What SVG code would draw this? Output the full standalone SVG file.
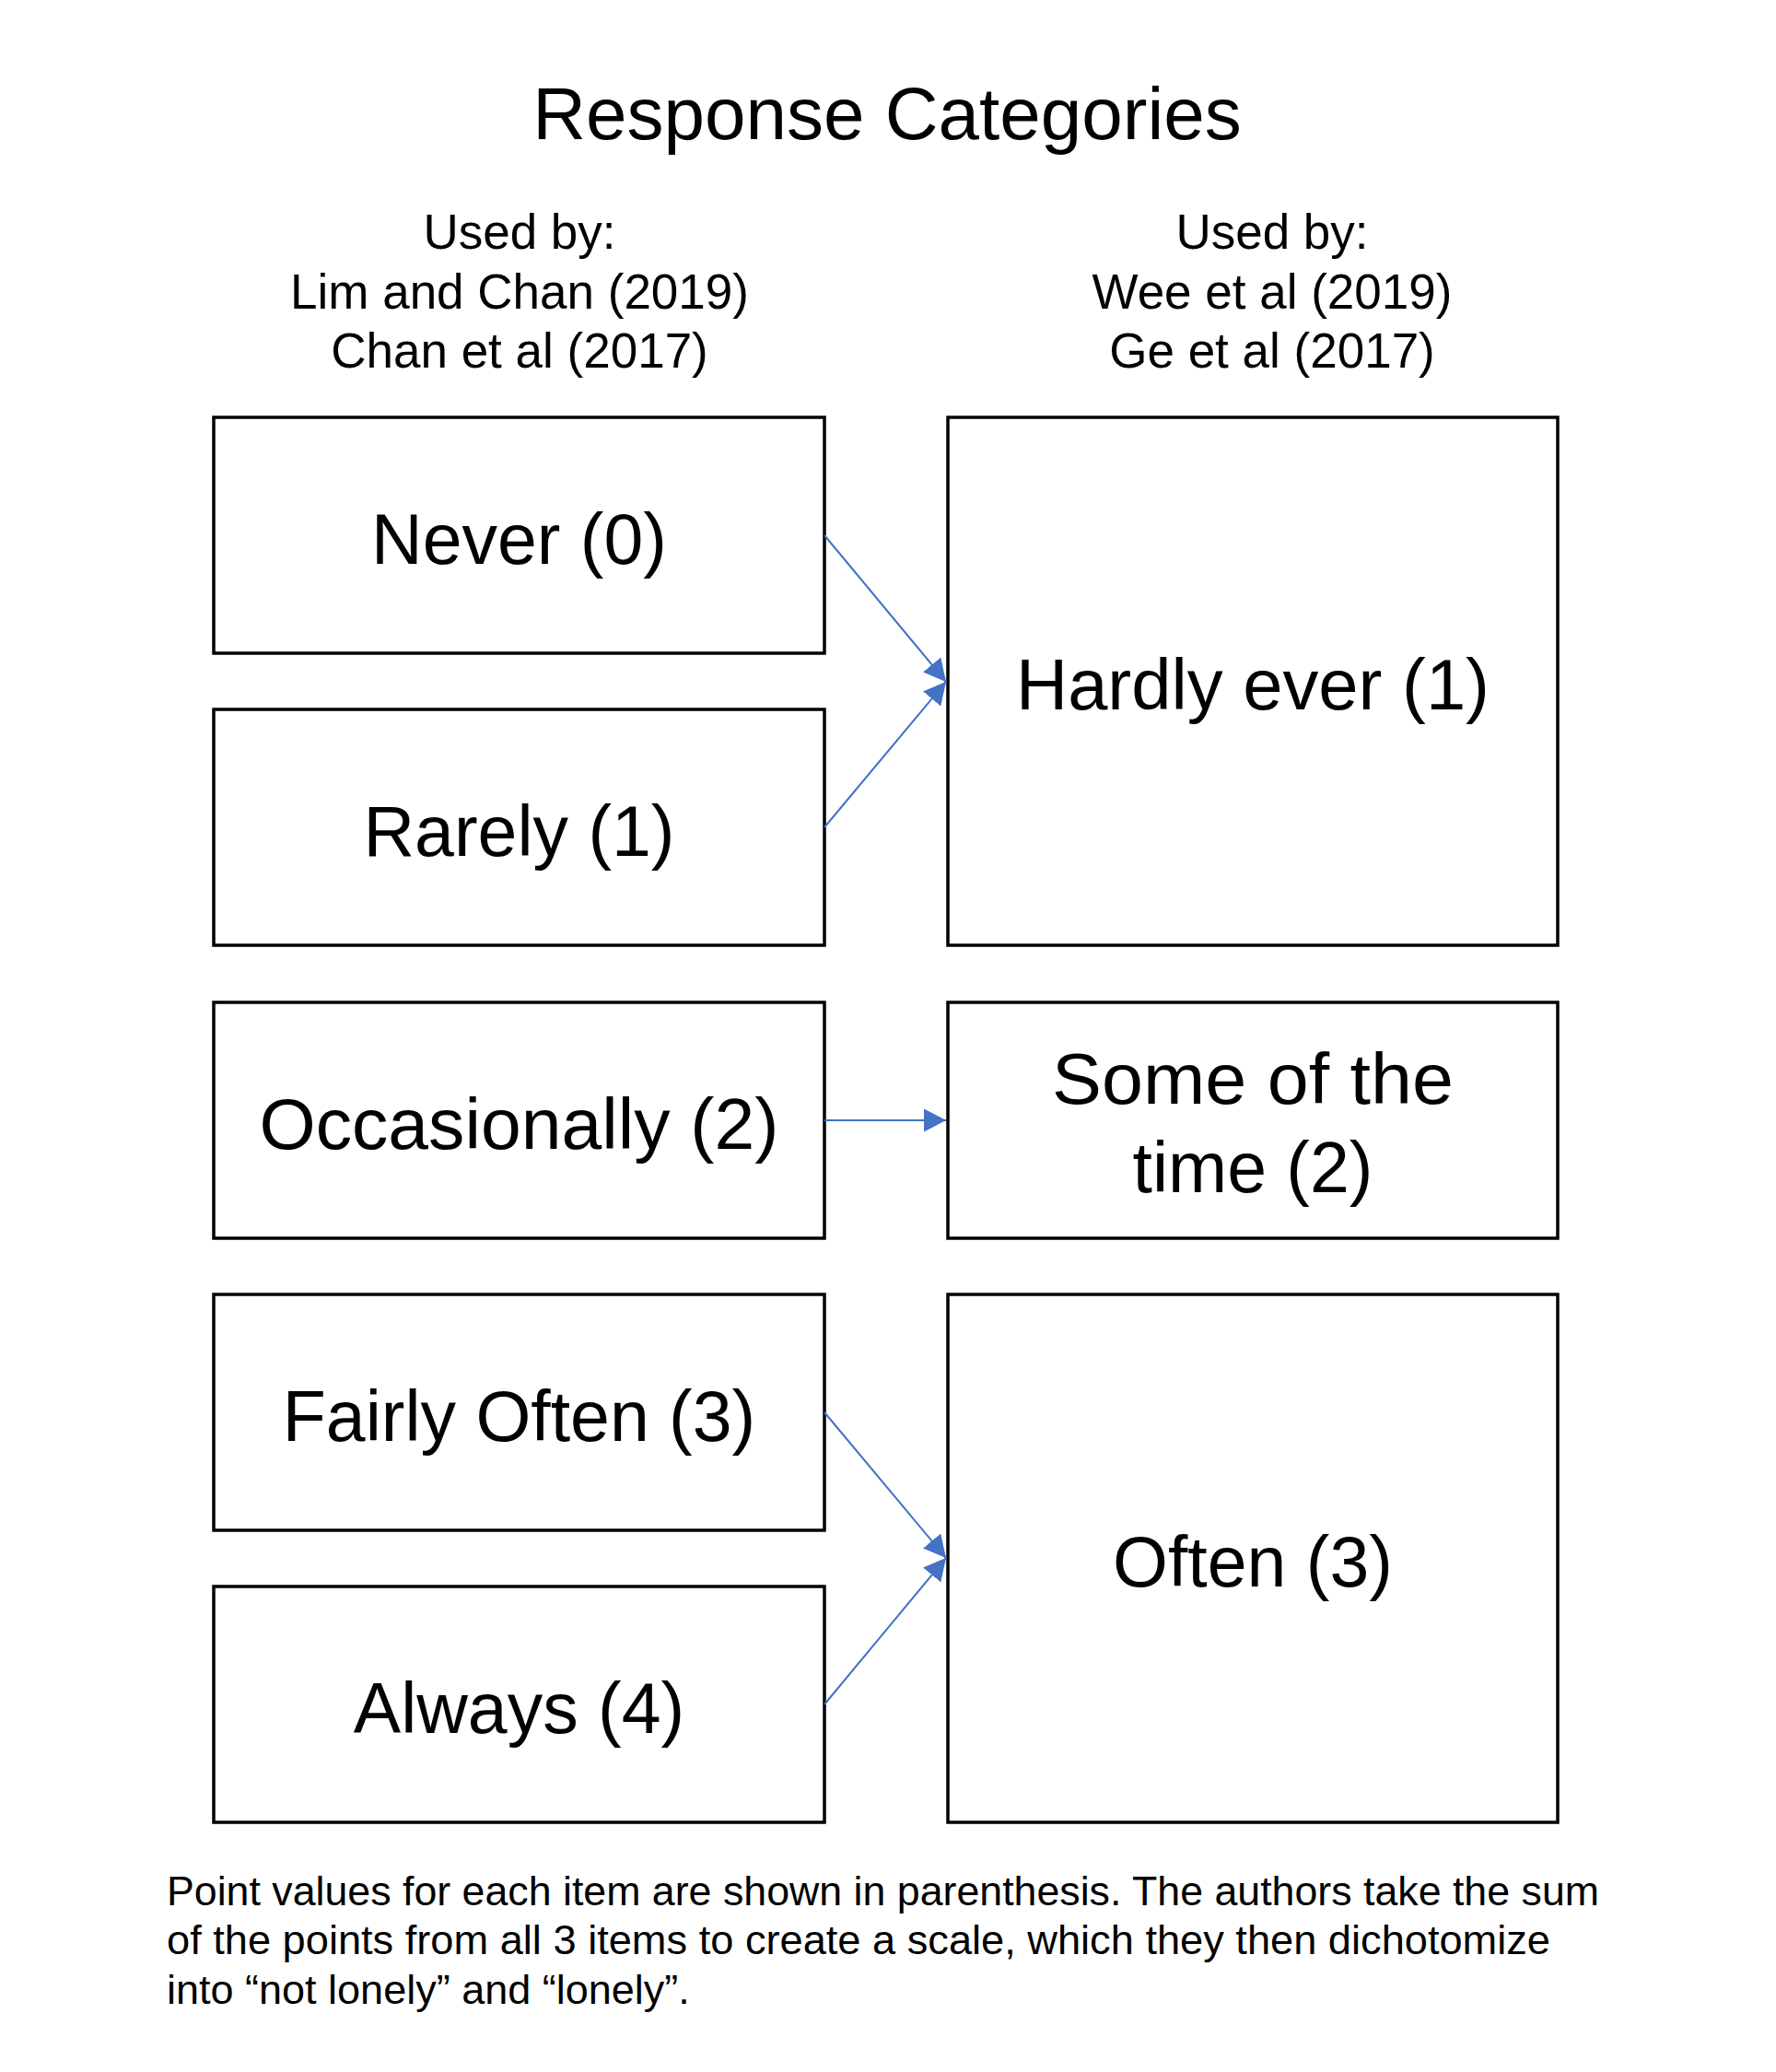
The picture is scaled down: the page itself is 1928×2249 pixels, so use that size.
<svg xmlns="http://www.w3.org/2000/svg" width="1928" height="2249" viewBox="0 0 1928 2249">
<style>
text { font-family: "Liberation Sans", Arial, Helvetica, sans-serif; fill: #000; }
.box { fill: #fff; stroke: #000; stroke-width: 3.5; }
.lbl { font-size: 77px; text-anchor: middle; }
.hdr { font-size: 53px; text-anchor: middle; }
.title { font-size: 80px; text-anchor: middle; }
.note { font-size: 45px; }
.conn { stroke: #4472C4; stroke-width: 2; fill: none; marker-end: url(#arr); }
</style>
<defs>
<marker id="arr" markerUnits="userSpaceOnUse" markerWidth="26" markerHeight="26" refX="24" refY="12.5" orient="auto">
<path d="M0,0 L24,12.5 L0,25 Z" fill="#4472C4"/>
</marker>
</defs>
<rect width="1928" height="2249" fill="#fff"/>
<text class="title" x="963" y="151">Response Categories</text>
<g id="header-left">
<text class="hdr" x="564" y="270">Used by:</text>
<text class="hdr" x="564" y="335">Lim and Chan (2019)</text>
<text class="hdr" x="564" y="399">Chan et al (2017)</text>
</g>
<g id="header-right">
<text class="hdr" x="1381" y="270">Used by:</text>
<text class="hdr" x="1381" y="335">Wee et al (2019)</text>
<text class="hdr" x="1381" y="399">Ge et al (2017)</text>
</g>
<g id="never"><rect class="box" x="232" y="453" width="663" height="256"/><text class="lbl" x="563.5" y="612">Never (0)</text></g>
<g id="rarely"><rect class="box" x="232" y="770" width="663" height="256"/><text class="lbl" x="563.5" y="929">Rarely (1)</text></g>
<g id="occasionally"><rect class="box" x="232" y="1088" width="663" height="256"/><text class="lbl" x="563.5" y="1247" textLength="564" lengthAdjust="spacingAndGlyphs">Occasionally (2)</text></g>
<g id="fairly-often"><rect class="box" x="232" y="1405" width="663" height="256"/><text class="lbl" x="563.5" y="1564">Fairly Often (3)</text></g>
<g id="always"><rect class="box" x="232" y="1722" width="663" height="256"/><text class="lbl" x="563.5" y="1881">Always (4)</text></g>
<g id="hardly-ever"><rect class="box" x="1029" y="453" width="662" height="573"/><text class="lbl" x="1360" y="770" textLength="514" lengthAdjust="spacingAndGlyphs">Hardly ever (1)</text></g>
<g id="some-of-the-time"><rect class="box" x="1029" y="1088" width="662" height="256"/><text class="lbl" x="1360" y="1198" textLength="436" lengthAdjust="spacingAndGlyphs">Some of the</text><text class="lbl" x="1360" y="1294">time (2)</text></g>
<g id="often"><rect class="box" x="1029" y="1405" width="662" height="573"/><text class="lbl" x="1360" y="1722">Often (3)</text></g>
<g id="connectors">
<line class="conn" x1="895" y1="581" x2="1027" y2="740"/>
<line class="conn" x1="895" y1="898" x2="1027" y2="740"/>
<line class="conn" x1="895" y1="1216" x2="1027" y2="1216"/>
<line class="conn" x1="895" y1="1533" x2="1027" y2="1691"/>
<line class="conn" x1="895" y1="1850" x2="1027" y2="1691"/>
</g>
<g id="note">
<text class="note" x="181" y="2068" textLength="1555" lengthAdjust="spacingAndGlyphs">Point values for each item are shown in parenthesis. The authors take the sum</text>
<text class="note" x="181" y="2121" textLength="1502" lengthAdjust="spacingAndGlyphs">of the points from all 3 items to create a scale, which they then dichotomize</text>
<text class="note" x="181" y="2175">into “not lonely” and “lonely”.</text>
</g>
</svg>
